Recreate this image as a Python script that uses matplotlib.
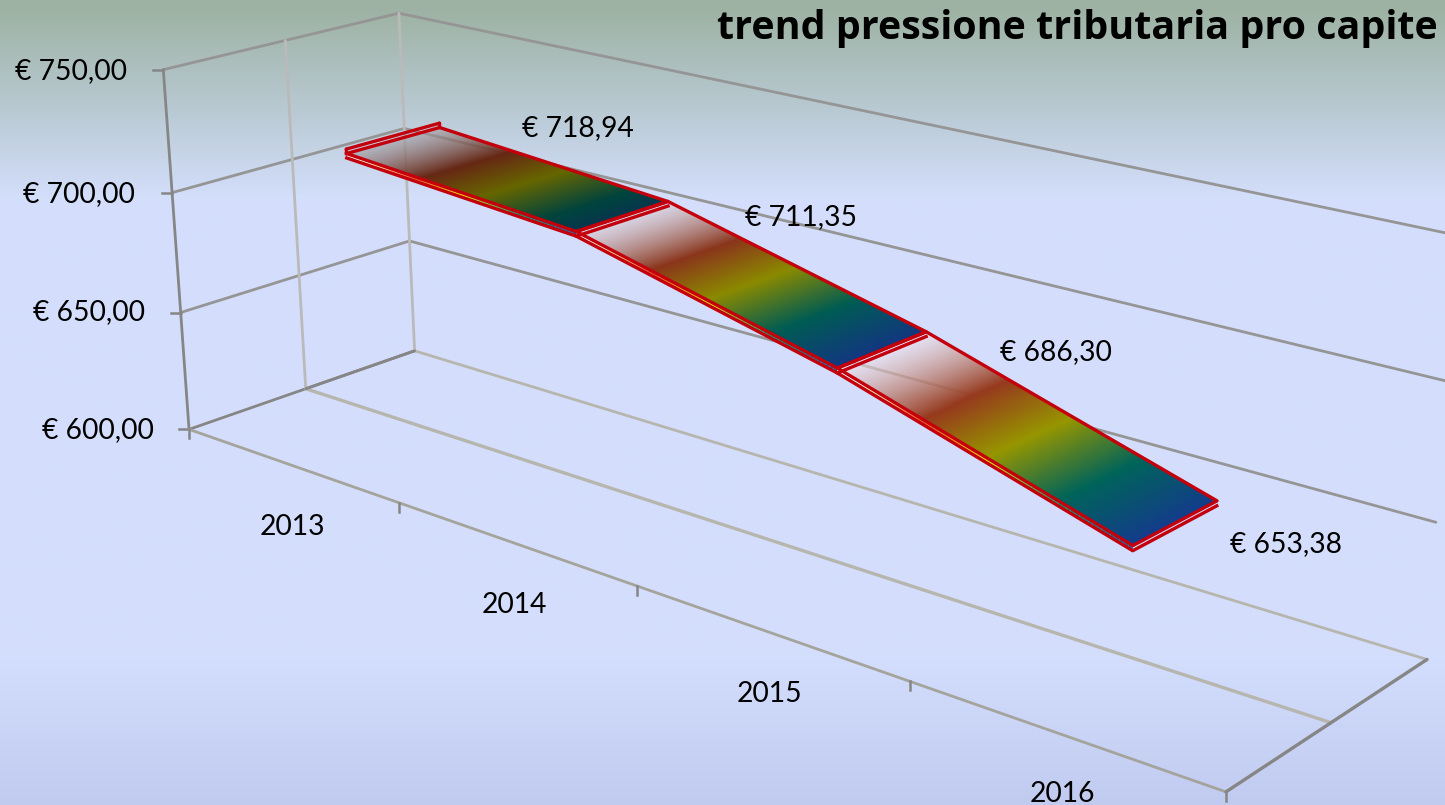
import numpy as np
import matplotlib
matplotlib.use("Agg")
import matplotlib.pyplot as plt
from matplotlib.collections import PolyCollection

# ---- data ----
categories = ["2013", "2014", "2015", "2016"]
values = [718.94, 711.35, 686.30, 653.38]
value_labels = ["€ 718,94", "€ 711,35", "€ 686,30", "€ 653,38"]
value_ticks = [600, 650, 700, 750]
value_tick_labels = ["€ 600,00", "€ 650,00", "€ 700,00", "€ 750,00"]
title = "trend pressione tributaria pro capite"

# ---- layout / style ----
W, H = 1445, 805
VMIN, VMAX = 600.0, 750.0
RIB_D0, RIB_D1 = 0.30, 0.70
THICK = 1.8
RED = "#c4000c"
cat_label_xy = [(292, 527), (514, 605), (769, 694), (1062, 794)]
val_label_xy = [(578, 128), (801, 217), (1056, 352), (1286, 544)]
tick_label_xy = [(154, 430), (145, 312), (135, 194), (127, 71)]
title_xy = (1438, 29)

# Camera calibration: (category edge, depth, height 0..1) -> picture position
calib = [
    ((0, 0, 0), (190, 428)), ((0, 0, 1), (164, 69)), ((0, 1, 0), (414, 350)),
    ((0, 1, 1), (398, 14)), ((0, .5, 0), (306, 387)), ((0, .5, 1), (284, 40)),
    ((4, 0, 0), (1227, 788)), ((4, 1, 0), (1427, 661)), ((4, .5, 0), (1330, 720)),
    ((1, 0, 0), (398, 505)), ((2, 0, 0), (636, 590)), ((3, 0, 0), (909, 685)),
    ((0, 0, 2/3), (173, 191)), ((0, 1, 2/3), (405, 130)), ((0, 1, 1/3), (410, 241)),
    ((4, 1, 1), (1454, 236)), ((4, 1, 2/3), (1446, 380)), ((4, 1, 1/3), (1437, 521)),
]
A = []
for (c, d, z), (u, v) in calib:
    A.append([c, d, z, 1, 0, 0, 0, 0, -u*c, -u*d, -u*z, -u])
    A.append([0, 0, 0, 0, c, d, z, 1, -v*c, -v*d, -v*z, -v])
P = np.linalg.svd(np.array(A, float))[2][-1].reshape(3, 4)


def proj(c, d, val):
    z = (val - VMIN) / (VMAX - VMIN)
    h = P @ np.array([c, d, z, 1.0])
    return h[0] / h[2], h[1] / h[2]


fig = plt.figure(figsize=(W / 100, H / 100), dpi=100)
ax = fig.add_axes([0, 0, 1, 1])
ax.set_xlim(0, W)
ax.set_ylim(H, 0)
ax.axis("off")
ax.set_autoscale_on(False)

# background gradient
stops_y = [0, 12, 100, 200, 650, 805]
stops_c = np.array([(157, 178, 162), (158, 179, 164), (182, 199, 206), (212, 223, 252),
                    (212, 222, 253), (193, 203, 240)], float) / 255
ys = np.arange(H)
grad = np.stack([np.interp(ys, stops_y, stops_c[:, i]) for i in range(3)], axis=1)[:, None, :]
ax.imshow(grad, extent=(0, W, H, 0), aspect="auto", zorder=0)

DARK, MID, LIGHT = "#868686", "#959595", "#b6b6ae"


def seg(p, q, color, lw=2.0, z=1):
    ax.plot([p[0], q[0]], [p[1], q[1]], color=color, lw=lw, zorder=z,
            solid_capstyle="round")


n = len(categories)
# back and left walls
for v in value_ticks:
    seg(proj(0, 1, v), proj(n, 1, v), MID if v > VMIN else LIGHT)
    seg(proj(0, 0, v), proj(0, 1, v), DARK if v == VMIN else MID)
    a = proj(0, 0, v)
    ax.plot([a[0] - 10, a[0]], [a[1], a[1]], color=DARK, lw=1.8, zorder=1)
# verticals
seg(proj(0, .5, VMIN), proj(0, .5, VMAX), "#bababa")
seg(proj(0, 1, VMIN), proj(0, 1, VMAX), "#bababa")
seg(proj(0, 0, VMIN), proj(0, 0, VMAX), DARK)
# floor
seg(proj(0, .5, VMIN), proj(n, .5, VMIN), LIGHT, lw=2.4)
seg(proj(0, 0, VMIN), proj(n, 0, VMIN), "#a4a49c")
seg(proj(n, 0, VMIN), proj(n, 1, VMIN), DARK, lw=2.4)
seg(proj(0, .5, VMIN), proj(0, 1, VMIN), DARK)
for c in range(n + 1):
    a = proj(c, 0, VMIN)
    ax.plot([a[0], a[0]], [a[1], a[1] + 9], color=DARK, lw=1.8, zorder=1)

# ribbon colour ramp
grad_t = [0.0, 0.30, 0.52, 0.76, 1.0]
grad_rgba = np.array([(245, 238, 248, 0.55), (150, 58, 30, 1), (150, 150, 0, 1),
                      (0, 100, 90, 1), (20, 60, 140, 1)], float)
grad_rgba[:, :3] /= 255
seg_bright = [0.68, 0.92, 1.0]
seg_extent = [0.88, 1.0, 1.0]
N = 70


def quad_homography(pts):
    """Map unit square (t, s) to the four picture corners."""
    src = [(0, 0), (1, 0), (1, 1), (0, 1)]
    M = []
    for (t, s), (u, v) in zip(src, pts):
        M.append([t, s, 1, 0, 0, 0, -u*t, -u*s, -u])
        M.append([0, 0, 0, t, s, 1, -v*t, -v*s, -v])
    return np.linalg.svd(np.array(M, float))[2][-1].reshape(3, 3)


px, py = np.meshgrid(np.arange(W) + .5, np.arange(H) + .5)
for i in range(n - 1):
    c0, c1 = i + 0.5, i + 1.5
    v0, v1 = values[i], values[i + 1]
    corners = [proj(c0, RIB_D0, v0), proj(c1, RIB_D0, v1),
               proj(c1, RIB_D1, v1), proj(c0, RIB_D1, v0)]
    Hinv = np.linalg.inv(quad_homography(corners))
    den = Hinv[2, 0] * px + Hinv[2, 1] * py + Hinv[2, 2]
    tt = (Hinv[0, 0] * px + Hinv[0, 1] * py + Hinv[0, 2]) / den
    ss = (Hinv[1, 0] * px + Hinv[1, 1] * py + Hinv[1, 2]) / den
    inside = (tt >= 0) & (tt <= 1) & (ss >= 0) & (ss <= 1)
    rgba = np.zeros((H, W, 4))
    for ch in range(4):
        rgba[..., ch] = np.interp(tt * seg_extent[i], grad_t, grad_rgba[:, ch])
    rgba[..., :3] *= seg_bright[i]
    rgba[..., 3] *= inside
    ax.imshow(rgba, extent=(0, W, H, 0), aspect="auto", zorder=3, interpolation="nearest")

    # front side face
    side, scols = [], []
    for k in range(N):
        t0, t1 = k / N, (k + 1) / N
        ca, cb = c0 + (c1 - c0) * t0, c0 + (c1 - c0) * t1
        va, vb = v0 + (v1 - v0) * t0, v0 + (v1 - v0) * t1
        side.append([proj(ca, RIB_D0, va), proj(cb, RIB_D0, vb),
                     proj(cb, RIB_D0, vb - THICK), proj(ca, RIB_D0, va - THICK)])
        tm = (t0 + t1) / 2
        r, g, b = [np.interp(tm, grad_t, grad_rgba[:, ch]) for ch in range(3)]
        scols.append((min(r * 1.6, 1), min(g * 1.6, 1), min(b * 1.2, 1), 1))
    ax.add_collection(PolyCollection(side, facecolors=scols, edgecolors="none", zorder=3.5))

    xs, ys_ = zip(*(corners + corners[:1]))
    ax.plot(xs, ys_, color=RED, lw=2.4, zorder=4, solid_joinstyle="round")
    low = [proj(c0, RIB_D0, v0 - THICK), proj(c1, RIB_D0, v1 - THICK),
           proj(c1, RIB_D1, v1 - THICK)]
    xs, ys_ = zip(*low)
    ax.plot(xs, ys_, color=RED, lw=2.4, zorder=4, solid_joinstyle="round")

# inner rim at the open start of the ribbon
a = proj(0.5, RIB_D0, values[0] + THICK)
b = proj(0.5, RIB_D1, values[0] + THICK)
ax.plot([a[0], b[0]], [a[1], b[1]], color=RED, lw=2.4, zorder=4, solid_capstyle="round")
e = proj(0.5, RIB_D0, values[0])
ax.plot([a[0], e[0]], [a[1], e[1]], color=RED, lw=2.4, zorder=4, solid_capstyle="round")
f = proj(0.5, RIB_D1, values[0])
ax.plot([b[0], f[0]], [b[1], f[1]], color=RED, lw=2.4, zorder=4, solid_capstyle="round")

# text
font = ["Lato", "DejaVu Sans"]
FS = 20.3
for s, xy in zip(value_labels, val_label_xy):
    ax.text(*xy, s, ha="center", va="center", fontsize=FS, family=font, color="black", zorder=6)
for s, xy in zip(categories, cat_label_xy):
    ax.text(*xy, s, ha="center", va="center", fontsize=FS, family=font, color="black", zorder=6)
for s, xy in zip(value_tick_labels, tick_label_xy):
    ax.text(*xy, s, ha="right", va="center", fontsize=FS, family=font, color="black", zorder=6)
ax.text(*title_xy, title, ha="right", va="center", fontsize=28.4, family=["Open Sans", "DejaVu Sans"],
        fontweight="bold", color="black", zorder=6)

fig.savefig("out.png", dpi=100)
